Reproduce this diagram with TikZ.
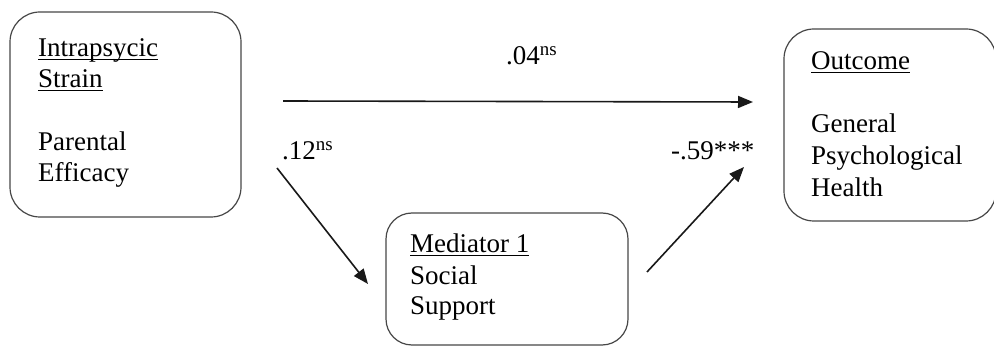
\documentclass[tikz,border=0pt]{standalone}
\usepackage{fontspec}
\setmainfont{Liberation Serif}
\usetikzlibrary{arrows.meta}
\newcommand\myul[1]{\setbox0\hbox{#1}\rlap{\rule[-3pt]{\wd0}{1.1pt}}#1}
\begin{document}
\begin{tikzpicture}[x=1pt,y=-1pt,
  box/.style={draw=black!72,line width=1.2pt,rounded corners=30pt},
  label/.style={anchor=base west,inner sep=0pt,font=\fontsize{27}{31}\selectfont},
  path/.style={draw=black!90,line width=1.6pt,-{Triangle[length=15pt,width=12pt]}}]
\useasboundingbox (0,0) rectangle (994,347);
\fill[white] (0,0) rectangle (994,347);

% variable boxes
\draw[box] (10,12) rectangle (241,217);
\node[inner sep=0pt] (iv) at (125.5,114.5) {};
\draw[box] (784,29) rectangle (996,221);
\node[inner sep=0pt] (dv) at (890,125) {};
\draw[box,rounded corners=26pt] (386,213) rectangle (628,345);
\node[inner sep=0pt] (med) at (507,279) {};

% box texts
\node[label] (ivh1) at (38,57) {\myul{Intrapsycic}};
\node[label] (ivh2) at (38,88) {\myul{Strain}};
\node[label] (ivt1) at (38,151) {Parental};
\node[label] (ivt2) at (38,182) {Efficacy};

\node[label] (dvh) at (811,70) {\myul{Outcome}};
\node[label] (dvt1) at (811,133) {General};
\node[label] (dvt2) at (811,165) {Psychological};
\node[label] (dvt3) at (811,197) {Health};

\node[label] (medh) at (410,253) {\myul{Mediator 1}};
\node[label] (medt1) at (410,285) {Social};
\node[label] (medt2) at (410,315) {Support};

% path endpoints
\coordinate (cA) at (283,101);
\coordinate (cB) at (753,102);
\coordinate (aA) at (277,168);
\coordinate (aB) at (368,284);
\coordinate (bA) at (647,272);
\coordinate (bB) at (744,167);

\draw[path] (cA) -- (cB);
\draw[path] (aA) -- (aB);
\draw[path] (bA) -- (bB);

% coefficients
\node[label] (c) at (506,65) {.04\textsuperscript{ns}};
\node[label] (a) at (282,160) {.12\textsuperscript{ns}};
\node[label] (b) at (671,160) {-.59***};
\end{tikzpicture}
\end{document}
